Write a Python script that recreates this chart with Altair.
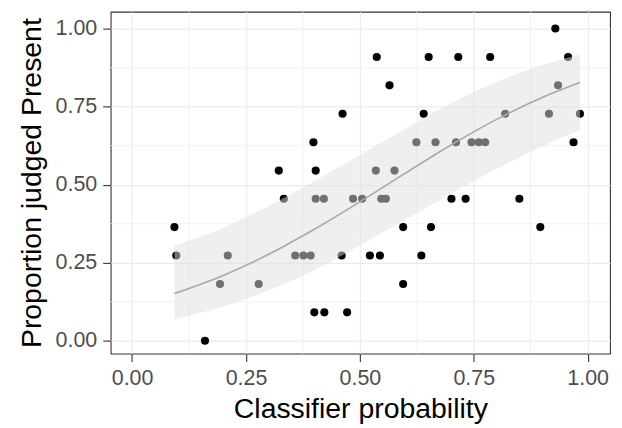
import altair as alt
import pandas as pd

# Observed points (classifier probability, proportion judged present)
pt_x = [0.929,
        0.537, 0.651, 0.716, 0.786, 0.957,
        0.565, 0.935,
        0.462, 0.640, 0.819, 0.915, 0.983,
        0.398, 0.969, 0.624, 0.666, 0.711, 0.745, 0.761, 0.775,
        0.322, 0.403, 0.535, 0.576,
        0.333, 0.403, 0.421, 0.485, 0.505, 0.547, 0.557, 0.701, 0.732, 0.850,
        0.093, 0.595, 0.656, 0.896,
        0.097, 0.210, 0.358, 0.376, 0.392, 0.460, 0.522, 0.544, 0.635,
        0.193, 0.278, 0.595,
        0.400, 0.422, 0.472,
        0.160]
pt_y = [1.000,
        0.909, 0.909, 0.909, 0.909, 0.909,
        0.818, 0.818,
        0.727, 0.727, 0.727, 0.727, 0.727,
        0.636, 0.636, 0.636, 0.636, 0.636, 0.636, 0.636, 0.636,
        0.545, 0.545, 0.545, 0.545,
        0.455, 0.455, 0.455, 0.455, 0.455, 0.455, 0.455, 0.455, 0.455, 0.455,
        0.364, 0.364, 0.364, 0.364,
        0.273, 0.273, 0.273, 0.273, 0.273, 0.273, 0.273, 0.273, 0.273,
        0.182, 0.182, 0.182,
        0.091, 0.091, 0.091,
        0.000]

# Smoothed fit and its confidence band
fit_x = [0.093, 0.2, 0.3, 0.4, 0.5, 0.6, 0.7, 0.8, 0.9, 0.983]
fit_y = [0.151, 0.209, 0.277, 0.357, 0.445, 0.537, 0.627, 0.709, 0.779, 0.827]
fit_lo = [0.070, 0.110, 0.162, 0.227, 0.305, 0.388, 0.471, 0.551, 0.622, 0.675]
fit_hi = [0.305, 0.362, 0.432, 0.511, 0.595, 0.680, 0.761, 0.829, 0.883, 0.917]

major_ticks = [0, 0.25, 0.5, 0.75, 1.0]
minor_ticks = [0.125, 0.375, 0.625, 0.875]

pts = pd.DataFrame({"x": pt_x, "y": pt_y})
fit = pd.DataFrame({"x": fit_x, "y": fit_y, "lo": fit_lo, "hi": fit_hi})
minor = pd.DataFrame({"v": minor_ticks})

XT = "Classifier probability"
YT = "Proportion judged Present"
xs = alt.Scale(domain=[-0.047, 1.049], nice=False, zero=False)
ys = alt.Scale(domain=[-0.041, 1.054], nice=False, zero=False)
xa = alt.Axis(values=major_ticks, format=".2f")
ya = alt.Axis(values=major_ticks, format=".2f")

minor_v = alt.Chart(minor).mark_rule(color="#efefef", strokeWidth=0.8).encode(
    x=alt.X("v:Q", scale=xs, axis=xa, title=XT))
minor_h = alt.Chart(minor).mark_rule(color="#efefef", strokeWidth=0.8).encode(
    y=alt.Y("v:Q", scale=ys, axis=ya, title=YT))

points = alt.Chart(pts).mark_circle(size=66, color="black", opacity=1).encode(
    x=alt.X("x:Q", scale=xs, axis=xa, title=XT),
    y=alt.Y("y:Q", scale=ys, axis=ya, title=YT))

band = alt.Chart(fit).mark_area(color="#e0e0e0", opacity=0.5, interpolate="monotone").encode(
    x=alt.X("x:Q", scale=xs, axis=xa, title=XT),
    y=alt.Y("lo:Q", scale=ys, axis=ya, title=YT),
    y2="hi:Q")

line = alt.Chart(fit).mark_line(color="#a9a9a9", strokeWidth=1.6, interpolate="monotone").encode(
    x=alt.X("x:Q", scale=xs, axis=xa, title=XT),
    y=alt.Y("y:Q", scale=ys, axis=ya, title=YT))

chart = alt.layer(minor_v, minor_h, points, band, line).properties(
    width=501, height=343,
    autosize=alt.AutoSizeParams(type="none"),
    padding={"left": 103, "top": 3, "right": 4, "bottom": 78},
).configure_view(
    stroke="#333333", strokeWidth=1.1
).configure_axis(
    domain=False,
    grid=True, gridColor="#ebebeb", gridWidth=1.1,
    tickColor="#333333", tickSize=8, tickWidth=1.1,
    labelFont="Liberation Sans", labelFontSize=21.5, labelColor="#4d4d4d", labelPadding=6,
    titleFont="Liberation Sans", titleFontSize=28.5, titleFontWeight="normal", titleColor="black",
).configure_axisX(titlePadding=6).configure_axisY(titlePadding=9)

chart.save("out.html", embed_options={"renderer": "svg", "actions": False})
